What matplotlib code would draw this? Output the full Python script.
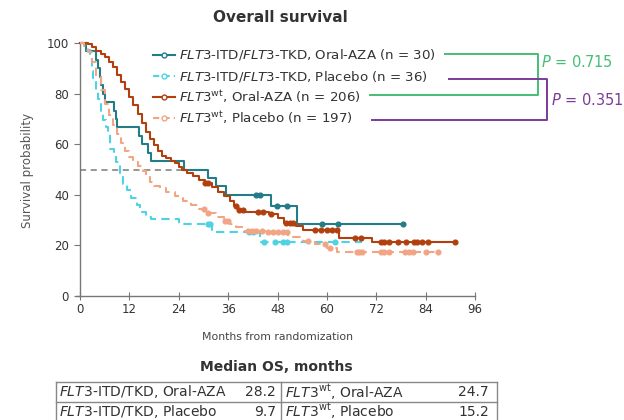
import numpy as np
import matplotlib
matplotlib.use('Agg')
import matplotlib.pyplot as plt
from matplotlib.lines import Line2D

plt.rcParams['font.family'] = 'DejaVu Sans'
plt.rcParams['mathtext.fontset'] = 'custom'
plt.rcParams['mathtext.rm'] = 'DejaVu Sans'
plt.rcParams['mathtext.it'] = 'DejaVu Sans:italic'

# Kaplan-Meier step data (months, % surviving)
itd_aza_t = [0, 1.5, 3.8, 4.3, 4.8, 5.2, 5.6, 6.0, 8.2, 8.7, 9.1, 14.4, 15.1, 16.6, 17.2, 25.2, 31.2, 33.0, 35.5, 46.3, 52.8, 78.6]
itd_aza_s = [100, 96.7, 93.3, 90.0, 86.7, 83.3, 80.0, 76.7, 73.3, 70.0, 66.7, 63.3, 60.0, 56.7, 53.3, 50.0, 46.7, 43.3, 40.0, 35.6, 28.4, 28.4]
itd_aza_cens = [42.8, 43.8, 47.9, 50.3, 58.8, 62.8, 78.6]

itd_pbo_t = [0, 1.8, 2.4, 2.8, 3.2, 3.8, 4.4, 5.0, 5.6, 6.2, 6.8, 7.4, 8.2, 8.8, 9.7, 10.4, 11.5, 12.4, 13.9, 14.7, 16.0, 17.2, 24.0, 32.0, 43.8, 68.5]
itd_pbo_s = [100, 97.2, 94.4, 88.9, 86.1, 80.6, 77.8, 72.2, 69.4, 66.7, 63.9, 58.3, 55.6, 52.8, 47.2, 44.4, 41.7, 38.9, 36.1, 33.3, 31.4, 30.6, 28.6, 25.2, 21.2, 21.2]
itd_pbo_cens = [31.0, 31.7, 41.0, 42.0, 44.6, 47.5, 49.4, 50.3, 62.0]

wt_aza_t = [0, 2.0, 3.0, 4.0, 5.0, 6.0, 7.0, 8.0, 9.0, 10.0, 11.0, 12.0, 13.0, 14.0, 15.0, 16.0, 17.0, 18.0, 19.0, 20.0, 21.0, 22.0, 23.0, 24.0,
            24.7, 26.0, 27.5, 29.0, 30.5, 32.0, 33.5, 35.0, 36.5, 37.5, 38.5, 40.0, 46.0, 48.0, 49.5, 52.5, 54.3, 63.0, 71.0, 91.2]
wt_aza_s = [100, 99.5, 98.5, 97.0, 95.8, 94.5, 92.5, 90.5, 87.5, 84.5, 82.0, 78.5, 75.5, 72.0, 68.5, 65.0, 62.0, 59.5, 57.5, 55.5, 54.5, 53.5, 52.5, 51.0,
            49.8, 48.8, 47.5, 46.0, 44.5, 43.0, 41.0, 39.5, 37.5, 35.5, 34.0, 33.2, 32.5, 31.0, 28.8, 27.8, 26.0, 23.0, 21.2, 21.2]
wt_aza_cens = [30.5, 31.2, 37.8, 38.6, 39.5, 43.2, 44.5, 46.5, 50.0, 51.0, 51.8, 57.0, 58.5, 60.0, 61.2, 62.5, 66.8, 68.2,
               73.2, 74.0, 75.0, 77.2, 79.2, 81.2, 82.0, 83.2, 84.6, 91.2]

wt_pbo_t = [0, 1.0, 2.0, 3.0, 4.0, 5.0, 6.0, 7.0, 8.0, 9.0, 10.0, 11.0, 12.0, 13.0, 14.0, 15.2, 16.0, 17.0, 18.0, 19.5, 21.0, 23.0,
            25.0, 27.0, 29.0, 31.0, 33.0, 35.0, 36.5, 38.0, 40.0, 45.0, 50.5, 54.3, 57.0, 60.0, 62.5, 87.1]
wt_pbo_s = [100, 99.0, 96.5, 92.5, 87.0, 81.5, 76.0, 71.5, 67.5, 64.0, 60.5, 57.5, 55.0, 53.0, 51.5, 49.5, 47.5, 45.0, 43.5, 42.5, 41.0, 39.5,
            37.7, 36.0, 34.4, 32.8, 31.2, 29.5, 28.4, 27.2, 25.8, 25.1, 23.5, 21.8, 20.5, 18.8, 17.2, 17.2]
wt_pbo_cens = [30.2, 31.0, 35.2, 36.0, 40.8, 41.8, 42.8, 44.2, 45.6, 47.0, 48.2, 49.4, 50.3, 55.4, 59.5, 60.8,
               67.2, 67.8, 68.6, 73.2, 74.0, 75.0, 79.0, 80.0, 81.0, 84.0, 87.1]

labels = [r'$\it{FLT3}$-ITD/$\it{FLT3}$-TKD, Oral-AZA (n = 30)',
          r'$\it{FLT3}$-ITD/$\it{FLT3}$-TKD, Placebo (n = 36)',
          r'$\it{FLT3}^{\rm wt}$, Oral-AZA (n = 206)',
          r'$\it{FLT3}^{\rm wt}$, Placebo (n = 197)']
colors = ['#227d89', '#4fd3e3', '#b2400f', '#f1a585']
styles = ['-', '--', '-', '--']

table_rows = [[r'$\it{FLT3}$-ITD/TKD, Oral-AZA', '28.2', r'$\it{FLT3}^{\rm wt}$, Oral-AZA', '24.7'],
              [r'$\it{FLT3}$-ITD/TKD, Placebo', '9.7', r'$\it{FLT3}^{\rm wt}$, Placebo', '15.2']]
p_values = ['0.715', '0.351']

W, H = 624, 420
def fx(x): return x / W
def fy(y): return 1 - y / H

fig = plt.figure(figsize=(6.24, 4.20), dpi=100)
ax = fig.add_axes([fx(80), fy(296), (475 - 80) / W, (296 - 43) / H])

curves = [(itd_aza_t, itd_aza_s, itd_aza_cens), (itd_pbo_t, itd_pbo_s, itd_pbo_cens),
          (wt_aza_t, wt_aza_s, wt_aza_cens), (wt_pbo_t, wt_pbo_s, wt_pbo_cens)]

# median reference line
ax.plot([0, 25], [50, 50], color='#7a7a7a', lw=1.1, ls=(0, (4, 3)), zorder=1)

order = [3, 1, 2, 0]
for i in order:
    t, s, c = curves[i]
    t = np.array(t); s = np.array(s)
    ax.plot(t, s, drawstyle='steps-post', color=colors[i], lw=1.5, ls=styles[i],
            dashes=(4, 2.5) if styles[i] == '--' else (None, None), clip_on=False, zorder=2 + i)
    idx = np.searchsorted(t, c, side='right') - 1
    idx = np.clip(idx, 0, len(s) - 1)
    ax.plot(c, s[idx], 'o', ms=3.4, color=colors[i], mec=colors[i], clip_on=False, zorder=2 + i)

ax.set_xlim(0, 96)
ax.set_ylim(0, 100)
ax.set_xticks(np.arange(0, 97, 12))
ax.set_yticks(np.arange(0, 101, 20))
for sp in ['top', 'right']:
    ax.spines[sp].set_visible(False)
for sp in ['left', 'bottom']:
    ax.spines[sp].set_color('#777777')
    ax.spines[sp].set_linewidth(1.0)
ax.spines['bottom'].set_bounds(-1, 96)
ax.tick_params(axis='x', direction='inout', length=6, color='#777777', labelsize=8.5, labelcolor='#333333', pad=2)
ax.tick_params(axis='y', direction='out', length=4, color='#777777', labelsize=8.5, labelcolor='#333333', pad=4)

fig.text(fx(278), fy(337), 'Months from randomization', ha='center', va='center', fontsize=7.8, color='#444444')
fig.text(fx(28), fy(170), 'Survival probability', ha='center', va='center', rotation=90, fontsize=8.5, color='#555555')
fig.text(fx(280), fy(18), 'Overall survival', ha='center', va='center', fontsize=11, fontweight='bold', color='#333333')

# legend drawn by hand
row_y = [55, 76, 97, 118]
for i in range(4):
    y = row_y[i]
    fig.add_artist(Line2D([fx(153), fx(175)], [fy(y), fy(y)], color=colors[i], lw=1.5, ls=styles[i],
                          dashes=(3, 2) if styles[i] == '--' else (None, None)))
    fig.add_artist(Line2D([fx(164)], [fy(y)], marker='o', ms=3.5, mfc='white', mec=colors[i], mew=1.0))
    fig.text(fx(179), fy(y), labels[i], ha='left', va='center', fontsize=9.6, color='#333333')

# P-value brackets
green, purple = '#45bf74', '#7b3c98'
fig.add_artist(Line2D([fx(445), fx(538), fx(538), fx(370)], [fy(54), fy(54), fy(95), fy(95)], color=green, lw=1.4))
fig.add_artist(Line2D([fx(449), fx(547), fx(547), fx(372)], [fy(79), fy(79), fy(120), fy(120)], color=purple, lw=1.4))
fig.text(fx(541), fy(62), r'$\it{P}$ = ' + p_values[0], ha='left', va='center', fontsize=10.5, color=green)
fig.text(fx(551), fy(100), r'$\it{P}$ = ' + p_values[1], ha='left', va='center', fontsize=10.5, color=purple)

# median OS table
fig.text(fx(276), fy(367), 'Median OS, months', ha='center', va='center', fontsize=10, fontweight='bold', color='#333333')
tc = '#888888'
tl, tm, tr, tt, td, tb = 56, 281, 497, 382, 401.5, 421
for y in [tt, td, tb]:
    fig.add_artist(Line2D([fx(tl), fx(tr)], [fy(y), fy(y)], color=tc, lw=1.0))
for x in [tl, tm, tr]:
    fig.add_artist(Line2D([fx(x), fx(x)], [fy(tt), fy(tb)], color=tc, lw=1.0))
for r, row in enumerate(table_rows):
    y = 392 + r * 19.5
    fig.text(fx(59), fy(y), row[0], ha='left', va='center', fontsize=10, color='#333333')
    fig.text(fx(276), fy(y), row[1], ha='right', va='center', fontsize=10, color='#333333')
    fig.text(fx(285), fy(y), row[2], ha='left', va='center', fontsize=10, color='#333333')
    fig.text(fx(489), fy(y), row[3], ha='right', va='center', fontsize=10, color='#333333')

fig.savefig('out.png', dpi=100, facecolor='white')
